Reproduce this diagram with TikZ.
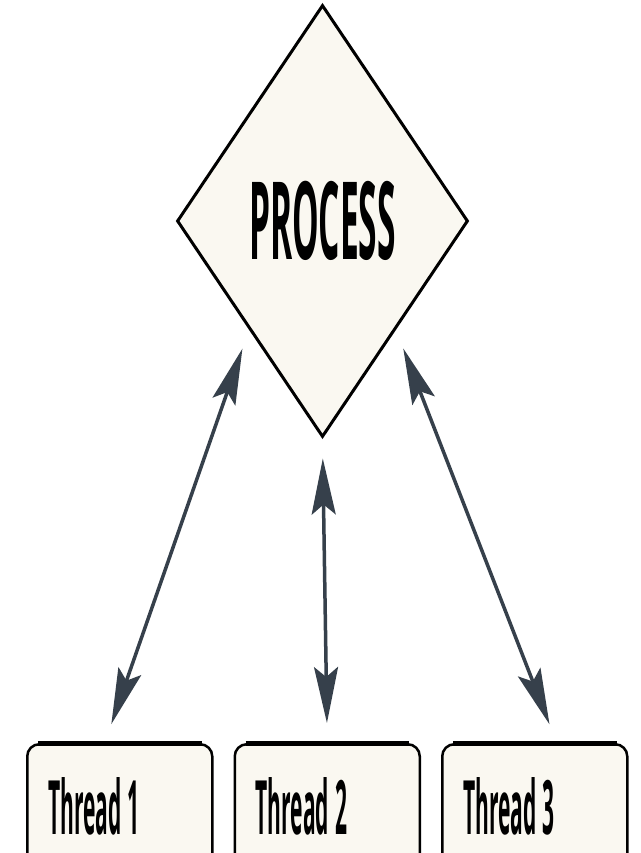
\documentclass[tikz,border=0pt]{standalone}
\usepackage{fontspec}
\usepackage{tikz}
\usetikzlibrary{arrows.meta,positioning,shapes.geometric}
\newfontfamily\squishfont[FakeStretch=0.28]{Open Sans Bold}
\newfontfamily\procfont[FakeStretch=0.31]{Open Sans Bold}
\newcommand\threadfont{\squishfont\fontsize{75}{75}\selectfont}
\newcommand\thr[1]{Thread\kern6pt#1}
\definecolor{cream}{HTML}{FAF8F1}
\definecolor{arrowslate}{HTML}{36404B}

\begin{document}
\begin{tikzpicture}[x=1pt,y=-1pt]
\tikzset{procbox/.style={diamond,draw=black,line width=3pt,fill=cream,minimum width=291pt,minimum height=432pt,inner sep=0pt,font=\procfont\fontsize{108}{108}\selectfont}}
\tikzset{threadbox/.style={rectangle,rounded corners=12pt,draw=black,line width=2.5pt,fill=cream,minimum width=185pt,minimum height=124pt,text width=143pt,inner xsep=21pt,align=left,anchor=north west,font=\threadfont}}
\tikzset{link/.style={arrowslate,line width=3.5pt,{Stealth[length=56pt,width=24pt,inset=10pt]}-{Stealth[length=56pt,width=24pt,inset=10pt]},shorten <=20pt,shorten >=20pt}}

\clip (0,0) rectangle (640,853);

\node[procbox] (proc) at (322.5,221) {PROCESS};
\node[threadbox] (t1) at (26,743) {\thr{1}};
\node[threadbox,right=20pt of t1] (t2) {\thr{2}};
\node[threadbox,right=20pt of t2] (t3) {\thr{3}};

% heavier top edge
\foreach \t in {t1,t2,t3}
  \draw[line width=5pt] ([xshift=12pt]\t.north west) -- ([xshift=-12pt]\t.north east);

\draw[link] (proc.south west) -- ([xshift=-15pt]t1.north);
\draw[link] (proc.south) -- (t2.north);
\draw[link] (proc.south east) -- ([xshift=22pt]t3.north);
\end{tikzpicture}
\end{document}
